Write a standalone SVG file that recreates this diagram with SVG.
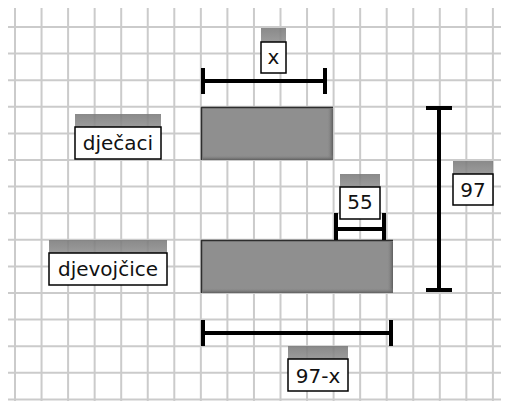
<svg xmlns="http://www.w3.org/2000/svg" width="507" height="401" viewBox="0 0 507 401">
  <defs>
    <linearGradient id="tabFill" x1="0" y1="0" x2="0" y2="1">
      <stop offset="0" stop-color="#7a7a7a"/>
      <stop offset="1" stop-color="#8e8e8e"/>
    </linearGradient>
    <linearGradient id="shadeRight" x1="0" y1="0" x2="1" y2="0">
      <stop offset="0" stop-color="#8e8e8e" stop-opacity="0"/>
      <stop offset="1" stop-color="#5e5e5e"/>
    </linearGradient>
    <linearGradient id="shadeBottom" x1="0" y1="0" x2="0" y2="1">
      <stop offset="0" stop-color="#8e8e8e" stop-opacity="0"/>
      <stop offset="1" stop-color="#5e5e5e"/>
    </linearGradient>
  </defs>
  <style>
    .grid { stroke: #cbcbcb; stroke-width: 2; fill: none; }
    .bar { fill: #8f8f8f; }
    .edge { stroke: #2e2e2e; stroke-width: 1.5; fill: none; }
    .dim { stroke: #000; stroke-width: 4; fill: none; stroke-linecap: butt; }
    .tab { fill: url(#tabFill); opacity: 0.88; }
    .box { fill: #fff; stroke: #000; stroke-width: 1.5; }
    .lbl { font-family: "DejaVu Sans", Verdana, sans-serif; font-size: 20px; fill: #111; text-anchor: middle; }
  </style>

  <rect width="507" height="401" fill="#fff"/>

  <!-- squared paper -->
  <g id="grid" class="grid">
    <path d="M15 8V401M41.55 8V401M68.1 8V401M94.65 8V401M121.2 8V401M147.75 8V401M174.3 8V401M200.85 8V401M227.4 8V401M253.95 8V401M280.5 8V401M307.05 8V401M333.6 8V401M360.15 8V401M386.7 8V401M413.25 8V401M439.8 8V401M466.35 8V401M492.9 8V401"/>
    <path d="M8 27H501M8 53.6H501M8 80.2H501M8 106.8H501M8 133.4H501M8 160H501M8 186.6H501M8 213.2H501M8 239.8H501M8 266.4H501M8 293H501M8 319.6H501M8 346.2H501M8 372.8H501M8 399.4H501"/>
  </g>

  <!-- bars -->
  <g id="bar-djecaci">
    <rect class="bar" x="201" y="107" width="132" height="53"/>
    <rect x="327" y="109" width="6" height="51" fill="url(#shadeRight)"/>
    <rect x="203" y="155" width="130" height="5" fill="url(#shadeBottom)"/>
    <path class="edge" d="M201.5 160V107.5H333"/>
  </g>
  <g id="bar-djevojcice">
    <rect class="bar" x="201" y="240" width="192" height="53"/>
    <rect x="387" y="242" width="6" height="51" fill="url(#shadeRight)"/>
    <rect x="203" y="288" width="190" height="5" fill="url(#shadeBottom)"/>
    <path class="edge" d="M201.5 293V240.5H393"/>
  </g>

  <!-- dimension brackets -->
  <g id="connectors" class="dim">
    <path d="M203 68V94M203 81H325M325 68V94"/>
    <path d="M336 213V240M336 229H384M384 213V240"/>
    <path d="M426 108H452M439 108V290M426 290H452"/>
    <path d="M203 320V346M203 333H391M391 320V346"/>
  </g>

  <!-- labels -->
  <g id="label-x">
    <rect class="tab" x="261" y="28" width="25" height="14"/>
    <rect class="box" x="261" y="42" width="25" height="31"/>
    <text class="lbl" x="273.5" y="64">x</text>
  </g>
  <g id="label-djecaci">
    <rect class="tab" x="75" y="114" width="86" height="13"/>
    <rect class="box" x="75" y="127" width="86" height="32"/>
    <text class="lbl" x="118" y="150">dječaci</text>
  </g>
  <g id="label-djevojcice">
    <rect class="tab" x="49" y="240" width="118" height="13"/>
    <rect class="box" x="49" y="253" width="118" height="32"/>
    <text class="lbl" x="108" y="276">djevojčice</text>
  </g>
  <g id="label-55">
    <rect class="tab" x="340" y="174" width="40" height="13"/>
    <rect class="box" x="340" y="187" width="40" height="32"/>
    <text class="lbl" x="360" y="209">55</text>
  </g>
  <g id="label-97">
    <rect class="tab" x="453" y="161" width="40" height="13"/>
    <rect class="box" x="453" y="174" width="40" height="31"/>
    <text class="lbl" x="473" y="197">97</text>
  </g>
  <g id="label-97-x">
    <rect class="tab" x="288" y="346" width="60" height="13"/>
    <rect class="box" x="288" y="359" width="60" height="32"/>
    <text class="lbl" x="318" y="383">97-x</text>
  </g>
</svg>
